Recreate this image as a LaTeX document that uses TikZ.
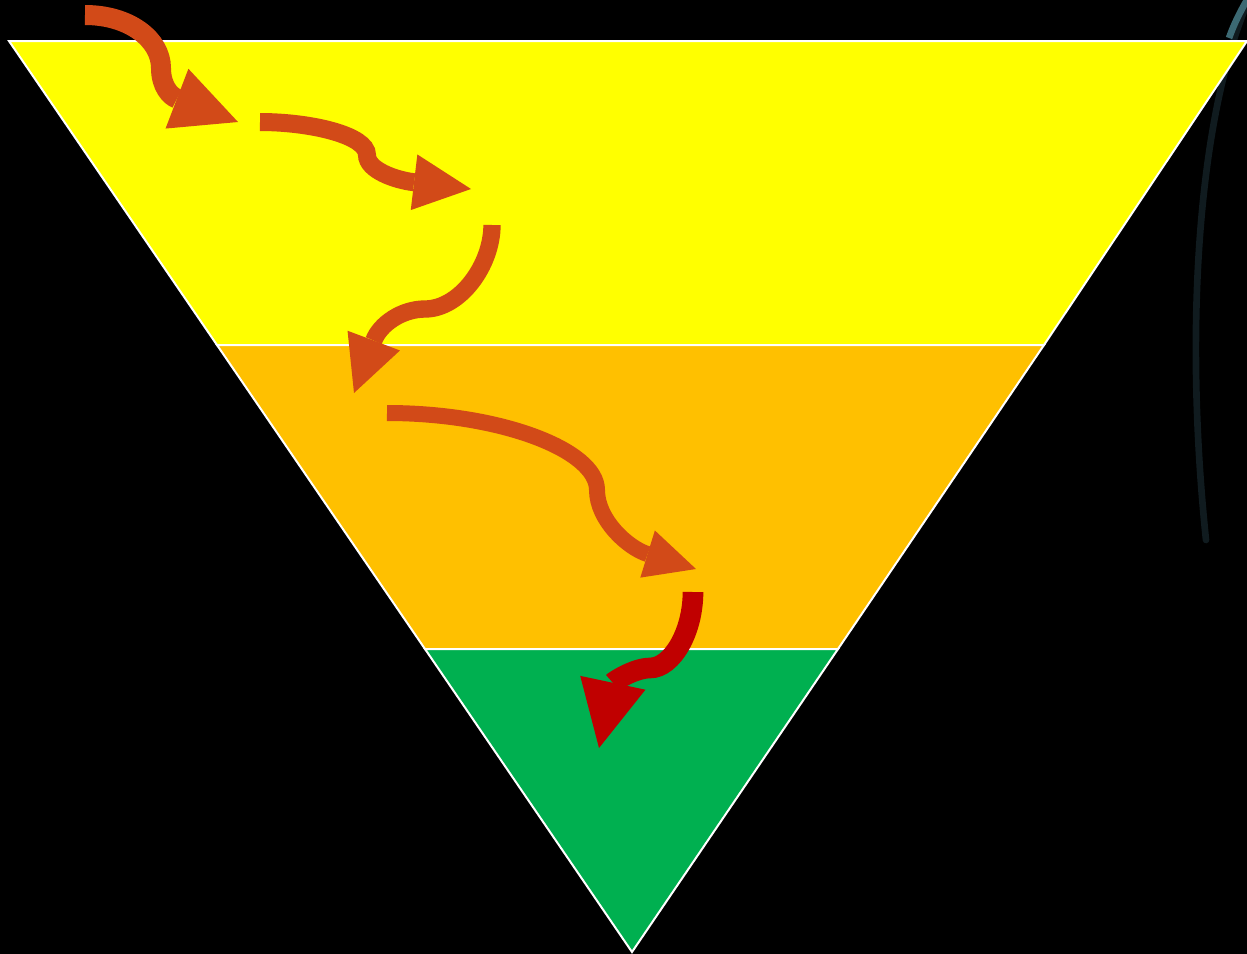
\documentclass[tikz,border=0pt]{standalone}
\usetikzlibrary{arrows.meta}

\tikzset{every picture/.style={line width=0.75pt}}
\tikzset{
  band/.style={draw=white, line width=1.5pt, line join=miter},
  flowarrow/.style={draw={rgb, 255:red, 210; green, 74; blue, 24}, line cap=butt},
}

\begin{document}
\begin{tikzpicture}[x=0.75pt,y=0.75pt,yscale=-1,xscale=1]

%% ---------------- background ----------------
\fill [black] (0,0) rectangle (1247,954);
\useasboundingbox (0,0) rectangle (1247,954);

%% faint planet rim on the right
\draw [color={rgb, 255:red, 16; green, 27; blue, 31}, line width=5pt, line cap=round] (1247,4) .. controls (1198,120) and (1184,330) .. (1206,540);
\draw [color={rgb, 255:red, 60; green, 105; blue, 115}, line width=5pt] (1247,0) .. controls (1240,12) and (1234,24) .. (1229,38);

%% ---------------- funnel bands ----------------
\draw [band, fill={rgb, 255:red, 255; green, 255; blue, 0}] (9,41) -- (1247,41) -- (1044,345) -- (217,345) -- cycle ;
\draw [band, fill={rgb, 255:red, 255; green, 192; blue, 0}] (217,345) -- (1044,345) -- (838,649) -- (425,649) -- cycle ;
\draw [band, fill={rgb, 255:red, 0; green, 176; blue, 80}] (425,649) -- (838,649) -- (632,952) -- cycle ;

%% ---------------- flow arrows ----------------
\draw [flowarrow, line width=15pt, -{Triangle[length=49pt, width=48pt, line width=0pt]}]
  (85,15) .. controls (130,15) and (161,40) .. (161,68) .. controls (161,86) and (170,96) .. (238,122) ;
\draw [flowarrow, line width=13.5pt, -{Triangle[length=43pt, width=42pt, line width=0pt]}]
  (260,122) .. controls (310,122) and (367,135) .. (367,155) .. controls (367,170) and (395,180) .. (471,189) ;
\draw [flowarrow, line width=13pt, -{Triangle[length=42pt, width=42pt, line width=0pt]}]
  (492,225) .. controls (492,265) and (460,309) .. (425,309) .. controls (402,309) and (380,324) .. (354,393) ;
\draw [flowarrow, line width=12pt, -{Triangle[length=38pt, width=37pt, line width=0pt]}]
  (387,413) .. controls (500,413) and (597,450) .. (597,490) .. controls (597,520) and (628,548) .. (696,569) ;
\draw [flowarrow, draw={rgb, 255:red, 192; green, 0; blue, 0}, line width=15.5pt, -{Triangle[length=50pt, width=50pt, line width=0pt]}]
  (693,592) .. controls (693,632) and (672,668) .. (650,668) .. controls (634,668) and (613,682) .. (599,748) ;

\end{tikzpicture}
\end{document}
